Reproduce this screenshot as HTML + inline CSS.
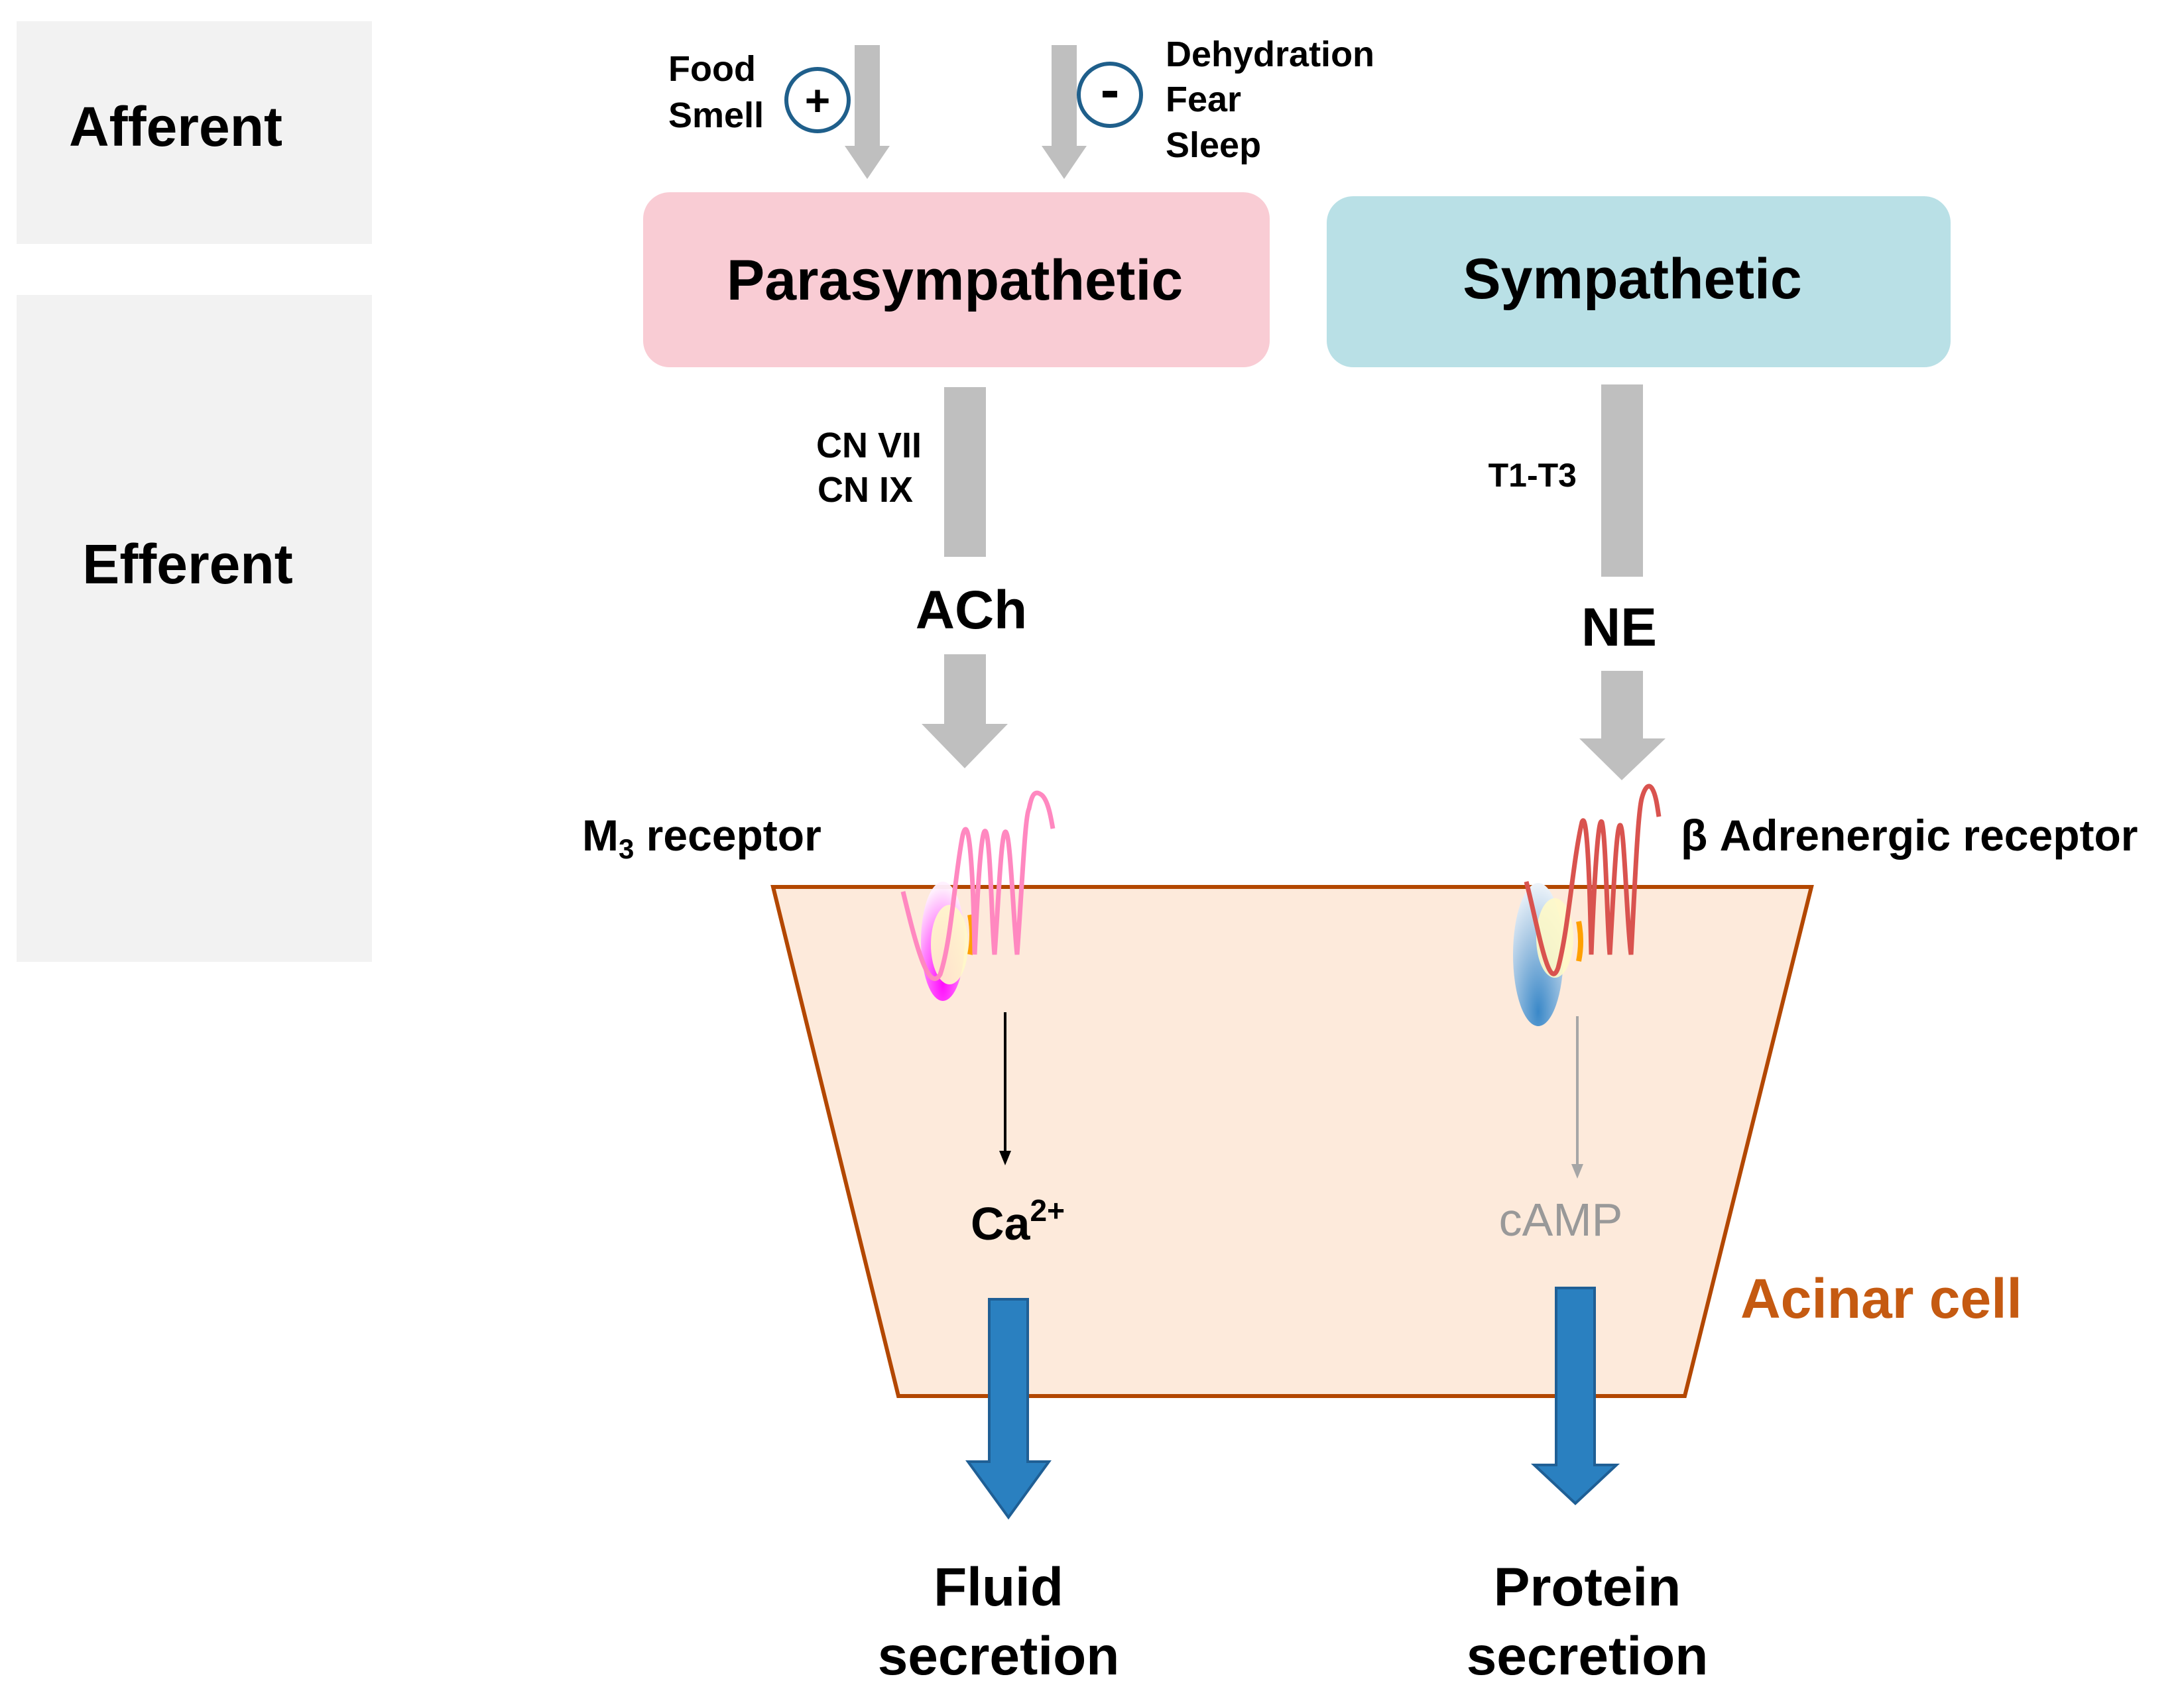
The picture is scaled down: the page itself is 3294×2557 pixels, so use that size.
<!DOCTYPE html>
<html><head><meta charset="utf-8"><style>
html,body{margin:0;padding:0;background:#fff}
svg{display:block}
text{font-family:"Liberation Sans",Arial,sans-serif}
</style></head><body>
<svg width="3294" height="2557" viewBox="0 0 3294 2557" xmlns="http://www.w3.org/2000/svg">
<defs>
<radialGradient id="mag" cx="0.5" cy="0.85" r="0.8">
<stop offset="0" stop-color="#ff00ff"/><stop offset="0.6" stop-color="#ff80ff"/><stop offset="1" stop-color="#fff0ff"/></radialGradient>
<radialGradient id="blu" cx="0.5" cy="0.9" r="0.9">
<stop offset="0" stop-color="#3a88c8"/><stop offset="0.6" stop-color="#a8c8e4"/><stop offset="1" stop-color="#eef4fa"/></radialGradient>
</defs>
<rect x="25" y="32" width="536" height="336" fill="#f2f2f2"/>
<rect x="25" y="445" width="536" height="1006" fill="#f2f2f2"/>
<text x="265" y="220" font-size="84" font-weight="bold" text-anchor="middle">Afferent</text>
<text x="283" y="880" font-size="84" font-weight="bold" text-anchor="middle">Efferent</text>

<polygon points="1289,68 1327,68 1327,220 1342,220 1308,270 1274,220 1289,220" fill="#bfbfbf"/>
<polygon points="1586,68 1624,68 1624,220 1639,220 1605,270 1571,220 1586,220" fill="#bfbfbf"/>
<circle cx="1233" cy="151" r="47" fill="#fff" stroke="#1f5f8b" stroke-width="6"/>
<text x="1233" y="174" font-size="66" font-weight="bold" text-anchor="middle">+</text>
<circle cx="1674" cy="143" r="47" fill="#fff" stroke="#1f5f8b" stroke-width="6"/>
<rect x="1663" y="137" width="22" height="10" fill="#000"/>
<text x="1008" y="122" font-size="54" font-weight="bold">Food</text>
<text x="1008" y="192" font-size="54" font-weight="bold">Smell</text>
<text x="1758" y="100" font-size="54" font-weight="bold">Dehydration</text>
<text x="1758" y="168" font-size="54" font-weight="bold">Fear</text>
<text x="1758" y="237" font-size="54" font-weight="bold">Sleep</text>

<rect x="970" y="290" width="945" height="264" rx="40" fill="#f9ccd4"/>
<text x="1440" y="452" font-size="86" font-weight="bold" text-anchor="middle">Parasympathetic</text>
<rect x="2001" y="296" width="941" height="258" rx="40" fill="#b9e0e6"/>
<text x="2462" y="450" font-size="86" font-weight="bold" text-anchor="middle">Sympathetic</text>

<rect x="1424" y="584" width="63" height="256" fill="#bfbfbf"/>
<text x="1390" y="690" font-size="54" font-weight="bold" text-anchor="end">CN VII</text>
<text x="1377" y="757" font-size="54" font-weight="bold" text-anchor="end">CN IX</text>
<text x="1465" y="948" font-size="82" font-weight="bold" text-anchor="middle">ACh</text>
<polygon points="1424,987 1487,987 1487,1092 1520,1092 1455,1159 1390,1092 1424,1092" fill="#bfbfbf"/>

<rect x="2415" y="580" width="63" height="290" fill="#bfbfbf"/>
<text x="2378" y="734" font-size="50" font-weight="bold" text-anchor="end">T1-T3</text>
<text x="2442" y="974" font-size="82" font-weight="bold" text-anchor="middle">NE</text>
<polygon points="2415,1012 2478,1012 2478,1114 2512,1114 2446,1177 2382,1114 2415,1114" fill="#bfbfbf"/>

<polygon points="1166,1338 2732,1338 2541,2106 1355,2106" fill="#fdeadb" stroke="#b34700" stroke-width="6"/>
<text x="878" y="1283" font-size="66" font-weight="bold">M<tspan font-size="42" dy="12">3</tspan><tspan dy="-12"> receptor</tspan></text>
<text x="2535" y="1283" font-size="66" font-weight="bold">β Adrenergic receptor</text>

<ellipse cx="1422" cy="1420" rx="33" ry="90" fill="url(#mag)" opacity="0.95"/>
<ellipse cx="1432" cy="1425" rx="28" ry="60" fill="#fffac8" opacity="0.9"/>
<path d="M1463,1380 q6,30 0,60" stroke="#ffa000" stroke-width="8" fill="none"/>
<path d="M1362,1345 C1380,1420 1400,1500 1418,1470 C1435,1420 1440,1320 1452,1260 C1462,1220 1468,1320 1470,1440 C1474,1350 1480,1240 1487,1255 C1494,1270 1496,1400 1500,1440 C1506,1360 1510,1250 1517,1255 C1524,1260 1528,1380 1534,1440 C1542,1330 1546,1230 1552,1220 C1556,1200 1560,1190 1572,1200 C1582,1210 1586,1240 1588,1250" stroke="#ff88c0" stroke-width="7" fill="none"/>
<ellipse cx="2320" cy="1440" rx="38" ry="108" fill="url(#blu)"/>
<ellipse cx="2345" cy="1415" rx="28" ry="60" fill="#fffac8" opacity="0.9"/>
<path d="M2381,1390 q6,30 0,60" stroke="#ffa000" stroke-width="8" fill="none"/>
<path d="M2302,1330 C2320,1400 2336,1500 2350,1460 C2366,1400 2372,1300 2386,1240 C2394,1220 2398,1340 2400,1440 C2404,1340 2410,1230 2416,1240 C2422,1260 2424,1400 2428,1440 C2434,1340 2438,1240 2444,1245 C2450,1250 2454,1400 2460,1440 C2466,1330 2470,1230 2476,1205 C2480,1190 2486,1180 2492,1190 C2498,1200 2500,1220 2502,1232" stroke="#d9534f" stroke-width="7" fill="none"/>

<line x1="1516" y1="1527" x2="1516" y2="1740" stroke="#000" stroke-width="4"/>
<polygon points="1507,1736 1525,1736 1516,1758" fill="#000"/>
<text x="1464" y="1870" font-size="70" font-weight="bold">Ca<tspan font-size="46" dy="-28">2+</tspan></text>
<line x1="2379" y1="1533" x2="2379" y2="1760" stroke="#a6a6a6" stroke-width="4"/>
<polygon points="2370,1756 2388,1756 2379,1778" fill="#a6a6a6"/>
<text x="2354" y="1864" font-size="70" fill="#999999" text-anchor="middle">cAMP</text>
<text x="2625" y="1988" font-size="84" font-weight="bold" fill="#c55a11">Acinar cell</text>

<polygon points="1492,1960 1550,1960 1550,2205 1582,2205 1521,2289 1460,2205 1492,2205" fill="#2a80c0" stroke="#1f5f95" stroke-width="4"/>
<polygon points="2347,1943 2405,1943 2405,2210 2438,2210 2376,2268 2314,2210 2347,2210" fill="#2a80c0" stroke="#1f5f95" stroke-width="4"/>

<text x="1506" y="2422" font-size="82" font-weight="bold" text-anchor="middle">Fluid</text>
<text x="1506" y="2526" font-size="82" font-weight="bold" text-anchor="middle">secretion</text>
<text x="2394" y="2422" font-size="82" font-weight="bold" text-anchor="middle">Protein</text>
<text x="2394" y="2526" font-size="82" font-weight="bold" text-anchor="middle">secretion</text>
</svg>
</body></html>
